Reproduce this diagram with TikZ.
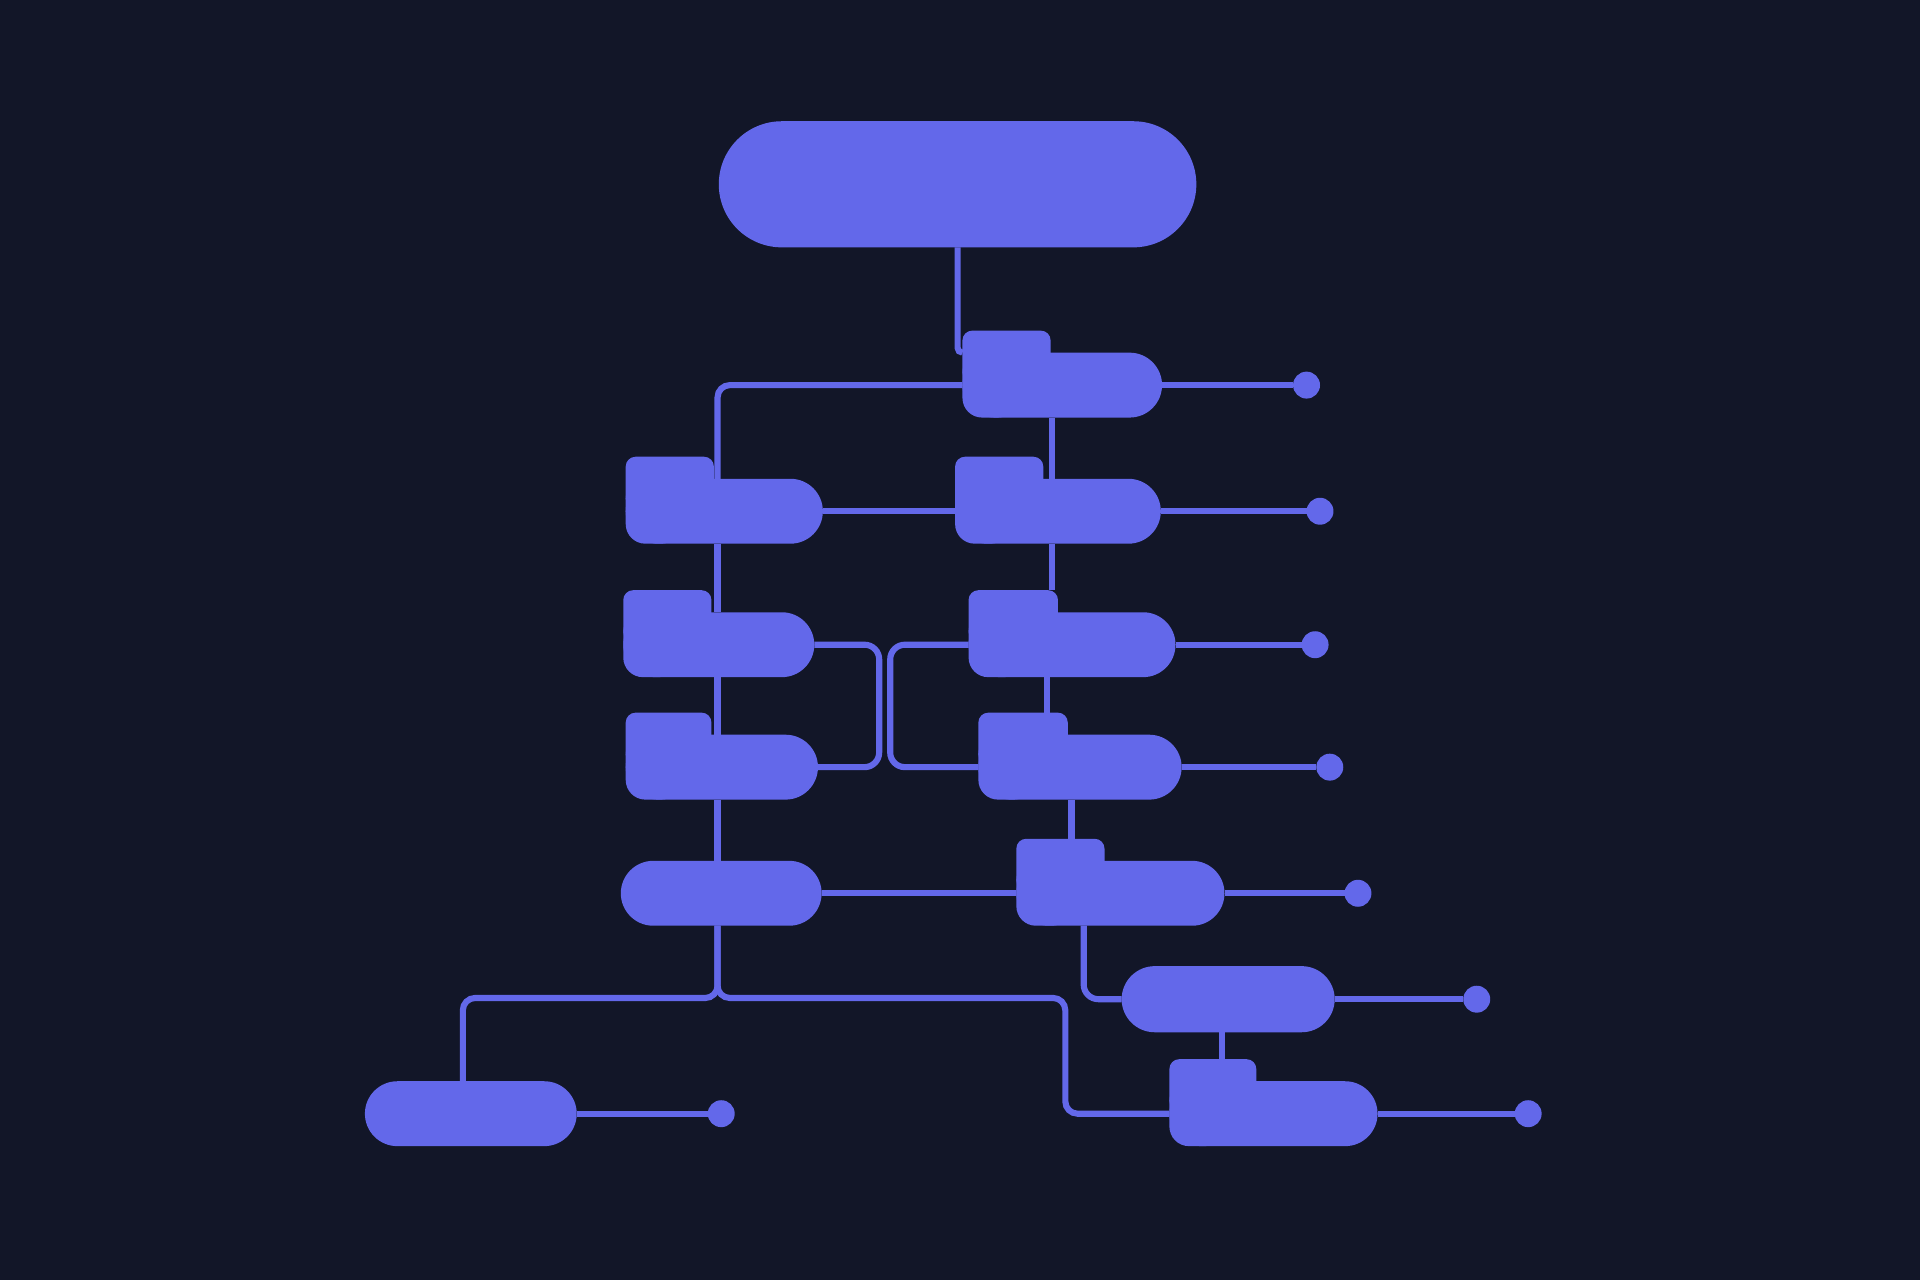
\documentclass[tikz,border=0pt]{standalone}
\usepackage{tikz}
\usepackage{xcolor}
\usetikzlibrary{positioning,shapes.misc}
\definecolor{bgnavy}{RGB}{18,22,40}
\definecolor{boxblue}{RGB}{99,104,234}

% folder box: name, left, right, body top, tab right
\newcommand{\folder}[5]{%
  \node[pill, minimum width={#3-#2}, minimum height=53] (#1) at ({(#2+#3)/2},{#4+26.5}) {};
  \fill[boxblue, rounded corners=16] (#2,#4) rectangle (#2+45,#4+53);
  \node[foldertab, minimum width={#5-#2}, anchor=north west] (#1t) at (#2,#4-18) {};
}

\begin{document}
\begin{tikzpicture}[x=1pt, y=-1pt,
    pill/.style={rounded rectangle, fill=boxblue, inner sep=0pt, outer sep=0pt},
    foldertab/.style={rectangle, rounded corners=8, fill=boxblue, inner sep=0pt, outer sep=0pt, minimum height=42},
    wire/.style={draw=boxblue, line width=5},
    enddot/.style={circle, fill=boxblue, inner sep=0pt, outer sep=0pt, minimum size=22}]
				\fill[bgnavy] (0,0) rectangle (1568,1045);

				% boxes
				\node[pill, minimum width=390, minimum height=103] (top) at (782,150.5) {};
				\folder{n0}{786}{949}{288}{858}
				\folder{ln1}{511}{672}{391}{583}
				\folder{rn1}{780}{948}{391}{852}
				\folder{ln2}{509}{665}{500}{581}
				\folder{rn2}{791}{960}{500}{864}
				\folder{ln3}{511}{668}{600}{581}
				\folder{rn3}{799}{965}{600}{872}
				\node[pill, minimum width=164, minimum height=53] (ln4) at (589,729.5) {};
				\folder{rn4}{830}{1000}{703}{902}
				\node[pill, minimum width=174, minimum height=54] (rn5) at (1003,816) {};
				\folder{rn6}{955}{1125}{883}{1026}
				\node[pill, minimum width=173, minimum height=53] (leaf) at (384.5,909.5) {};

				% rails
				\coordinate (lrail) at (586,0);
				\coordinate (rail1) at (859,0);
				\coordinate (rail2) at (855,0);
				\coordinate (rail3) at (875,0);
				\coordinate (rail4) at (885,0);
				\coordinate (rail5) at (998,0);
				\coordinate (mleft) at (718,0);
				\coordinate (mright) at (727,0);
				\coordinate (mid) at (0,576);
				\coordinate (fork) at (0,815);
				\coordinate (bleft) at (378,0);
				\coordinate (bright) at (870,0);

				% wires
				\draw[wire, rounded corners=4] (top.south) |- (n0.west |- n0.north);
				\draw[wire, rounded corners=10] (n0.west) -| (lrail |- ln1.north);
				\draw[wire] (rail1 |- n0.south) -- (rail1 |- rn1.north);
				\draw[wire] (rail1 |- rn1.south) -- (rail1 |- rn2t.north);
				\draw[wire] (rail2 |- rn2.south) -- (rail2 |- rn3t.north);
				\draw[wire] (rail3 |- rn3.south) -- (rail3 |- rn4t.north);
				\foreach \a/\b in {ln1/ln2, ln2/ln3, ln3/ln4}
					\draw[wire] (lrail |- \a.south) -- (lrail |- \b.north);
				\draw[wire] (ln1.east) -- (rn1.west);
				\draw[wire] (ln4.east) -- (rn4.west);
				\draw[wire, rounded corners=12] (ln2.east) -| (mleft |- mid) |- (ln3.east);
				\draw[wire, rounded corners=12] (rn2.west) -| (mright |- mid) |- (rn3.west);
				\draw[wire, rounded corners=12] (rail4 |- rn4.south) |- (rn5.west);
				\draw[wire] (rail5 |- rn5.south) -- (rail5 |- rn6t.north);
				\draw[wire, rounded corners=10] (lrail |- ln4.south) |- (bleft |- fork) -- (bleft |- leaf.north);
				\draw[wire, rounded corners=10] (lrail |- ln4.south) |- (bright |- fork) |- (rn6.west);

				% end dots
				\foreach \n/\g in {n0/107, rn1/119, rn2/103, rn3/110, rn4/98, rn5/105, rn6/112, leaf/107} {
					\node[enddot, right=\g pt of \n] (d\n) {};
					\draw[wire] (\n.east) -- (d\n);
				}
			\end{tikzpicture}
\end{document}
